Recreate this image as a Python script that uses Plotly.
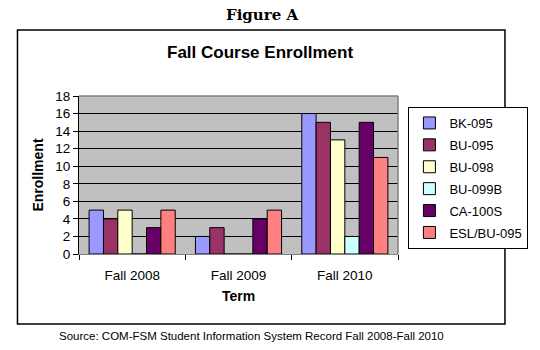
import plotly.graph_objects as go

terms = ["Fall 2008", "Fall 2009", "Fall 2010"]
courses = ["BK-095", "BU-095", "BU-098", "BU-099B", "CA-100S", "ESL/BU-095"]
values = {
    "BK-095": [5, 2, 16],
    "BU-095": [4, 3, 15],
    "BU-098": [5, 0, 13],
    "BU-099B": [0, 0, 2],
    "CA-100S": [3, 4, 15],
    "ESL/BU-095": [5, 5, 11],
}
colors = ["#9999FF", "#993366", "#FFFFCC", "#CCFFFF", "#660066", "#FF8080"]

fig = go.Figure()
for c, col in zip(courses, colors):
    fig.add_trace(go.Bar(
        name=c, x=terms, y=values[c], legendgroup=c,
        marker=dict(color=col, line=dict(color="black", width=1)),
    ))

# plot area pixel geometry
L, R, T, B = 79, 416, 96, 254
W, H = R - L, B - T
def px(x):
    return (x - L) / W
def py(y):
    return (B - y) / H

font = "Liberation Sans, Arial, sans-serif"
fig.update_layout(
    width=540, height=350,
    margin=dict(l=L, r=540 - R, t=T, b=350 - B),
    paper_bgcolor="white", plot_bgcolor="#C0C0C0",
    barmode="group", bargap=0.19, bargroupgap=0,
    font=dict(family=font, size=13, color="black"),
    showlegend=True,
    legend=dict(
        x=px(427), y=py(107), xanchor="left", yanchor="top",
        bordercolor="black", borderwidth=1, bgcolor="white",
        traceorder="grouped", tracegroupgap=2,
        font=dict(family=font, size=13), itemwidth=30,
    ),
    xaxis=dict(
        showline=True, linecolor="#808080", linewidth=1,
        ticks="outside", tickson="boundaries", ticklen=5, tickcolor="black",
        showgrid=False, ticklabelstandoff=9,
        title=dict(text="<b>Term</b>", font=dict(family=font, size=14), standoff=8),
        tickfont=dict(family=font, size=13.5),
    ),
    yaxis=dict(
        range=[0, 18], dtick=2, showline=True, linecolor="black", linewidth=1,
        ticks="outside", ticklen=5, tickcolor="black",
        gridcolor="black", gridwidth=1, zeroline=False,
        title=dict(text="<b>Enrollment</b>", font=dict(family=font, size=14), standoff=8),
        tickfont=dict(family=font, size=13.5),
    ),
    shapes=[
        dict(type="rect", xref="paper", yref="paper",
             x0=px(14), x1=px(529), y0=py(324), y1=py(30),
             line=dict(color="black", width=1.5), layer="below"),
        dict(type="line", xref="paper", yref="paper",
             x0=0, x1=1, y0=1, y1=1, line=dict(color="#808080", width=1.5)),
        dict(type="line", xref="paper", yref="paper",
             x0=1, x1=1, y0=0, y1=1, line=dict(color="#808080", width=1.5)),
    ],
    annotations=[
        dict(text="<b>Figure A</b>", xref="paper", yref="paper",
             x=px(272), y=py(15), xanchor="center", yanchor="middle", showarrow=False,
             font=dict(family="DejaVu Serif, serif", size=15)),
        dict(text="<b>Fall Course Enrollment</b>", xref="paper", yref="paper",
             x=px(270), y=py(52), xanchor="center", yanchor="middle", showarrow=False,
             font=dict(family=font, size=17)),
        dict(text="Source: COM-FSM Student Information System Record Fall 2008-Fall 2010",
             xref="paper", yref="paper", x=px(261), y=py(336),
             xanchor="center", yanchor="middle", showarrow=False,
             font=dict(family=font, size=11.5)),
    ],
)

fig.write_html("out.html")
